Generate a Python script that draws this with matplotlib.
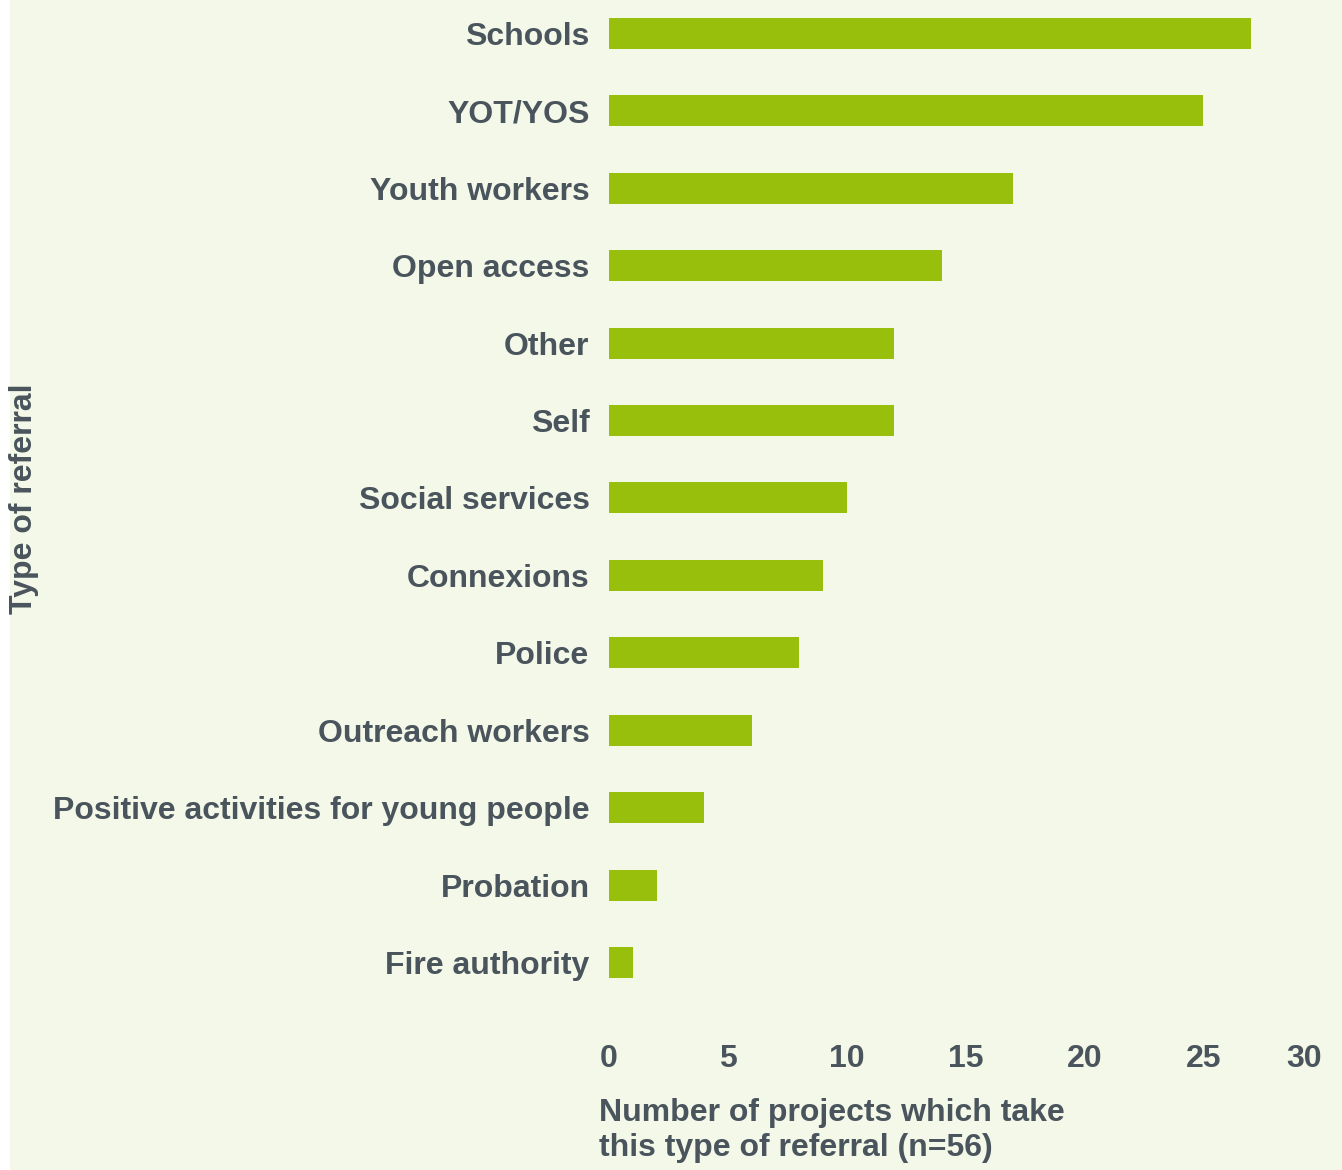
import matplotlib
matplotlib.use("Agg")
import matplotlib.pyplot as plt
from matplotlib.patches import Rectangle

# referral types, top to bottom
categories = ["Schools", "YOT/YOS", "Youth workers", "Open access", "Other", "Self",
              "Social services", "Connexions", "Police", "Outreach workers",
              "Positive activities for young people", "Probation", "Fire authority"]
counts = [27, 25, 17, 14, 12, 12, 10, 9, 8, 6, 4, 2, 1]
xticks = [0, 5, 10, 15, 20, 25, 30]

BG = "#f3f8e8"
BAR = "#99bf0d"
TXT = "#4a545c"
W, H = 1342, 1170
FS = 23

plt.rcParams["font.family"] = ["Liberation Sans", "DejaVu Sans"]
plt.rcParams["font.weight"] = "bold"

fig = plt.figure(figsize=(W / 100, H / 100), dpi=100, facecolor="white")
fig.patches.append(Rectangle((10 / W, 0), 1, 1, transform=fig.transFigure,
                             facecolor=BG, edgecolor="none", zorder=-10))

ax = fig.add_axes([609 / W, 130 / H, 713 / W, 1040 / H])
ax.set_facecolor("none")
pos = list(range(len(categories)))
ax.barh(pos, counts, height=0.4, color=BAR)
ax.set_ylim(13.0, -0.43)
ax.set_xlim(0, 30)
ax.set_yticks(pos)
ax.set_yticklabels(categories, fontsize=FS, color=TXT, fontweight="bold")
ax.set_xticks(xticks)
ax.set_xticklabels([str(t) for t in xticks], fontsize=FS, color=TXT, fontweight="bold")
ax.get_xticklabels()[-1].set_horizontalalignment("right")
ax.tick_params(length=0)
ax.tick_params(axis="y", pad=14)
ax.tick_params(axis="x", pad=3)
for s in ax.spines.values():
    s.set_visible(False)

fig.text(24 / W, 1 - 499 / H, "Type of referral", rotation=90, ha="center", va="center",
         fontsize=FS, color=TXT, fontweight="bold")
fig.text(599 / W, 1 - 1098 / H, "Number of projects which take\nthis type of referral (n=56)",
         ha="left", va="top", fontsize=FS, color=TXT, fontweight="bold", linespacing=1.22)

fig.savefig("out.png", dpi=100, facecolor=fig.get_facecolor())
